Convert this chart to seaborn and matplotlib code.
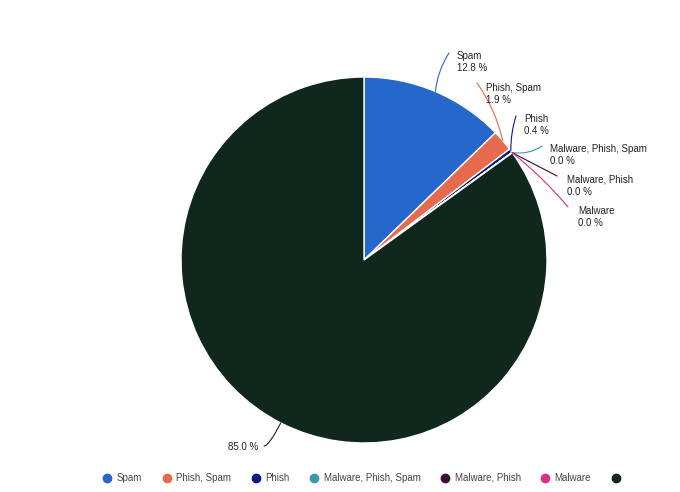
import numpy as np
import matplotlib
matplotlib.use("Agg")
import matplotlib.pyplot as plt
import seaborn as sns
from matplotlib.lines import Line2D

sns.set_style("white")
plt.rcParams['font.family'] = ['Liberation Sans', 'DejaVu Sans']

# data
labels = ["Spam", "Phish, Spam", "Phish", "Malware, Phish, Spam", "Malware, Phish", "Malware", ""]
values = [12.76, 1.88, 0.36, 0.02, 0.01, 0.01, 84.96]
colors = ["#2667cc", "#e56a4e", "#0b1786", "#3a98a8", "#3b0b35", "#d6308a", "#10271e"]

# label text positions in pixel coords (x, y from top), and leader line end
text_pos = [(457, 51), (486, 83), (524, 114), (550, 144), (567, 175), (578, 206), (258, 447)]
line_end = [(449, 53), (477, 83), (516, 116), (542, 146), (557, 176), (568, 207), (264, 446)]
conn = ["arc3,rad=0.12", "arc3,rad=-0.1", "arc3,rad=0.08", "arc3,rad=-0.2",
        "arc3,rad=0.0", "arc3,rad=0.05", "angle3,angleA=0,angleB=63"]

W, H = 680, 492
fig = plt.figure(figsize=(6.8, 4.92), dpi=100)
ax = fig.add_axes([0, 0, 1, 1])
cx, cy, r = 364, H - 260, 183

ax.pie(values, colors=colors, startangle=90, counterclock=False,
       center=(cx, cy), radius=r,
       wedgeprops=dict(edgecolor="white", linewidth=1))
ax.set_xlim(0, W)
ax.set_ylim(0, H)
ax.set_aspect("equal")
ax.axis("off")

total = sum(values)
cum = np.cumsum([0] + values[:-1])
for i, v in enumerate(values):
    mid = (cum[i] + v / 2) / total
    ang = np.deg2rad(90 - mid * 360)
    ax_pt = (cx + r * np.cos(ang), cy + r * np.sin(ang))
    ex, ey = line_end[i]
    ax.annotate("", xy=ax_pt, xytext=(ex, H - ey),
                arrowprops=dict(arrowstyle="-", color=colors[i], lw=0.8,
                                shrinkA=0, shrinkB=0, connectionstyle=conn[i]))
    pct = f"{v / total * 100:.1f} %"
    txt = pct if labels[i] == "" else labels[i] + "\n" + pct
    tx, ty = text_pos[i]
    ha = "right" if labels[i] == "" else "left"
    ax.text(tx, H - ty, txt, fontsize=7, color="#222222", ha=ha,
            va="top" if labels[i] else "center", linespacing=1.3)

handles = [Line2D([0], [0], marker="o", color="none", markerfacecolor=c,
                  markeredgecolor=c, markersize=6) for c in colors]
fig.legend(handles, labels, loc="center", bbox_to_anchor=(0.535, 1 - 478 / H),
           ncol=7, frameon=False, fontsize=7, handletextpad=0.5,
           columnspacing=2.0, handlelength=1.0, labelcolor="#444444")

plt.savefig("out.png", dpi=100)
plt.close()
